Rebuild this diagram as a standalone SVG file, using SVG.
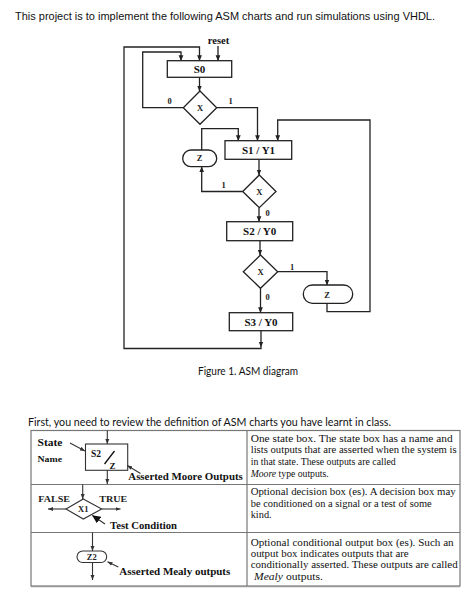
<svg xmlns="http://www.w3.org/2000/svg" width="474" height="598" viewBox="0 0 474 598">
<defs>
<marker id="ah" markerWidth="6" markerHeight="6" refX="5.5" refY="3" orient="auto" markerUnits="userSpaceOnUse">
<path d="M0,0.6 L5.8,3 L0,5.4 Z" fill="#222"/>
</marker>
<marker id="ahs" markerWidth="6" markerHeight="5" refX="5" refY="2.5" orient="auto" markerUnits="userSpaceOnUse">
<path d="M0,0.5 L5,2.5 L0,4.5 Z" fill="#333"/>
</marker>
<marker id="ahb" markerWidth="9" markerHeight="8" refX="8" refY="4" orient="auto" markerUnits="userSpaceOnUse">
<path d="M0,0 L8.5,4 L0,8 Z" fill="#111"/>
</marker>
</defs>
<style>
.ln{fill:none;stroke:#222;stroke-width:1.3}
.bx{fill:#fff;stroke:#222;stroke-width:1.3}
.sn{font-family:"Liberation Serif",serif;font-weight:bold;font-size:11px;fill:#111;text-anchor:middle}
.sm{font-family:"Liberation Serif",serif;font-weight:bold;font-size:8.5px;fill:#222;text-anchor:middle}
.tb{fill:none;stroke:#777;stroke-width:1.2}
.tl{fill:none;stroke:#333;stroke-width:1.1}
.tx{font-family:"Liberation Serif",serif;font-size:10.2px;fill:#111}
.bt{font-family:"Liberation Serif",serif;font-weight:bold;font-size:10.5px;fill:#111}
.hd{font-family:"Liberation Sans",Arial,sans-serif;font-size:11px;fill:#111}
.cal{font-family:Lato,"Open Sans",sans-serif;font-size:11px;fill:#111}
</style>
<rect width="474" height="598" fill="#fff"/>
<text class="hd" x="15" y="20" textLength="420" lengthAdjust="spacingAndGlyphs">This project is to implement the following ASM charts and run simulations using VHDL.</text>

<g id="connectors">
<path class="ln" d="M218,46 V60.7" marker-end="url(#ah)"/>
<path class="ln" d="M261,330.7 V347" marker-end="url(#ah)"/>
<path class="ln" d="M261,347 V348.5 H124 V47 H199.5 V60.7" marker-end="url(#ah)"/>
<path class="ln" d="M183.3,107.7 H142.7 V52 H181 V60.7" marker-end="url(#ah)"/>
<path class="ln" d="M199.5,77.3 V91" marker-end="url(#ah)"/>
<path class="ln" d="M216.7,107.7 H257.5 V140.7" marker-end="url(#ah)"/>
<path class="ln" d="M201.7,150 V128.7 H238.3 V140.7" marker-end="url(#ah)"/>
<path class="ln" d="M327,303.3 V311.7 H370 V120 H277.7 V140.7" marker-end="url(#ah)"/>
<path class="ln" d="M259,159.3 V175" marker-end="url(#ah)"/>
<path class="ln" d="M242.7,191.5 H201.7 V166.7" marker-end="url(#ah)"/>
<path class="ln" d="M259,207.7 V221.7" marker-end="url(#ah)"/>
<path class="ln" d="M260,240.7 V255" marker-end="url(#ah)"/>
<path class="ln" d="M277.5,271.7 H327 V285" marker-end="url(#ah)"/>
<path class="ln" d="M260.5,288.3 V312.7" marker-end="url(#ah)"/>
<text class="sm" x="169.5" y="103.5">0</text>
<text class="sm" x="230.5" y="103.5">1</text>
<text class="sm" x="223.5" y="187.5">1</text>
<text class="sm" x="267.5" y="215.5">0</text>
<text class="sm" x="292" y="269.5">1</text>
<text class="sm" x="267.5" y="299.5">0</text>
<text class="sn" x="218.5" y="43.5" style="font-size:10.5px">reset</text>
</g>

<g id="S0">
<rect class="bx" x="167.3" y="60.7" width="64.4" height="16.6"/>
<text class="sn" x="199.5" y="73">S0</text>
</g>
<g id="D1">
<polygon class="bx" points="200,91 216.7,107.7 200,124.3 183.3,107.7"/>
<text class="sm" x="200" y="111">X</text>
</g>
<g id="S1">
<rect class="bx" x="225" y="140.7" width="66.7" height="18.6"/>
<text class="sn" x="258.5" y="154.3">S1 / Y1</text>
</g>
<g id="Z1">
<rect class="bx" x="182.7" y="150" width="34" height="16.7" rx="8.3"/>
<text class="sm" x="199.7" y="161.3">Z</text>
</g>
<g id="D2">
<polygon class="bx" points="259.3,175 276,191.5 259.3,207.7 242.7,191.5"/>
<text class="sm" x="259.3" y="194.8">X</text>
</g>
<g id="S2">
<rect class="bx" x="226.7" y="221.7" width="66" height="19"/>
<text class="sn" x="259.7" y="235.2">S2 / Y0</text>
</g>
<g id="D3">
<polygon class="bx" points="260.5,255 277.7,271.7 260.5,288.3 243.3,271.7"/>
<text class="sm" x="260.5" y="275">X</text>
</g>
<g id="Z2n">
<rect class="bx" x="303.3" y="285" width="49.4" height="18.3" rx="9"/>
<text class="sm" x="327" y="297.5">Z</text>
</g>
<g id="S3">
<rect class="bx" x="229.3" y="312.7" width="63.4" height="18"/>
<text class="sn" x="261" y="326">S3 / Y0</text>
</g>

<text class="cal" x="198" y="374.5" textLength="100" lengthAdjust="spacingAndGlyphs" style="font-size:10.5px">Figure 1. ASM diagram</text>
<text class="cal" x="28" y="426" textLength="363" lengthAdjust="spacingAndGlyphs" style="font-size:11.5px">First, you need to review the definition of ASM charts you have learnt in class.</text>

<g id="table">
<rect class="tb" x="31" y="430.5" width="429" height="155.5"/>
<line class="tb" x1="31" y1="484.5" x2="460" y2="484.5"/>
<line class="tb" x1="31" y1="532.5" x2="460" y2="532.5"/>
<line class="tb" x1="247" y1="430.5" x2="247" y2="586"/>
<line class="tb" x1="31" y1="586.6" x2="460" y2="586.6" style="stroke:#999"/>

<g id="legend-state">
<text class="bt" x="37.5" y="446" textLength="25" lengthAdjust="spacingAndGlyphs">State</text>
<text class="bt" x="37.5" y="462" textLength="24.5" lengthAdjust="spacingAndGlyphs" style="font-size:9px">Name</text>
<path class="tl" d="M107.3,430.5 V444" marker-end="url(#ahs)"/>
<path class="tl" d="M70,443 L85,451" marker-end="url(#ahs)"/>
<rect x="85.5" y="444" width="42.2" height="26.3" fill="#fff" stroke="#333" stroke-width="1.1"/>
<text class="bt" x="91" y="456.5" style="font-size:9.5px">S2</text>
<line x1="104.5" y1="464" x2="114.5" y2="451" stroke="#111" stroke-width="1.3"/>
<text class="bt" x="109.5" y="468.5" style="font-size:9px">Z</text>
<path class="tl" d="M107.3,470.3 V484" marker-end="url(#ahs)"/>
<path class="tl" d="M140.5,473.5 L127.2,465.5" marker-end="url(#ahs)"/>
<text class="bt" x="128.3" y="479.5" textLength="114.5" lengthAdjust="spacingAndGlyphs">Asserted Moore Outputs</text>
</g>
<text class="tx" x="250.7" y="441.7" textLength="202" lengthAdjust="spacingAndGlyphs">One state box. The state box has a name and</text>
<text class="tx" x="250.7" y="453.3" textLength="206" lengthAdjust="spacingAndGlyphs">lists outputs that are asserted when the system is</text>
<text class="tx" x="250.7" y="465" textLength="145" lengthAdjust="spacingAndGlyphs">in that state. These outputs are called</text>
<text class="tx" x="250.7" y="476.5" textLength="78" lengthAdjust="spacingAndGlyphs"><tspan font-style="italic">Moore</tspan> type outputs.</text>

<g id="legend-decision">
<text class="sm" x="54.2" y="502" textLength="31.7" lengthAdjust="spacingAndGlyphs">FALSE</text>
<text class="sm" x="113.3" y="502" textLength="28" lengthAdjust="spacingAndGlyphs">TRUE</text>
<path class="tl" d="M82.7,484.5 V499" marker-end="url(#ahs)"/>
<polygon points="83.3,499 101.7,509 83.3,519 66,509" fill="#fff" stroke="#333" stroke-width="1.1"/>
<text class="sm" x="83.3" y="512.2">X1</text>
<path class="tl" d="M66,509 H48" marker-end="url(#ahs)"/>
<path class="tl" d="M101.7,509 H120.5" marker-end="url(#ahs)"/>
<path class="tl" d="M105,524 L92.5,515.5" marker-end="url(#ahb)"/>
<text class="bt" x="110" y="529" textLength="67" lengthAdjust="spacingAndGlyphs">Test Condition</text>
</g>
<text class="tx" x="250.7" y="495" textLength="205" lengthAdjust="spacingAndGlyphs">Optional decision box (es). A decision box may</text>
<text class="tx" x="250.7" y="506.7" textLength="181" lengthAdjust="spacingAndGlyphs">be conditioned on a signal or a test of some</text>
<text class="tx" x="250.7" y="518.3" textLength="21" lengthAdjust="spacingAndGlyphs">kind.</text>

<g id="legend-mealy">
<path class="tl" d="M92.5,532.5 V551" marker-end="url(#ahs)"/>
<rect x="77" y="551" width="29.7" height="11.5" rx="5.7" fill="#fff" stroke="#333" stroke-width="1.1"/>
<text class="sm" x="91.8" y="560">Z2</text>
<path class="tl" d="M92.5,562.5 V580" marker-end="url(#ahs)"/>
<path class="tl" d="M118.3,567 L107.5,561.8" marker-end="url(#ahs)"/>
<text class="bt" x="119.3" y="574.5" textLength="111" lengthAdjust="spacingAndGlyphs">Asserted Mealy outputs</text>
</g>
<text class="tx" x="250.7" y="545.7" textLength="203" lengthAdjust="spacingAndGlyphs">Optional conditional output box (es).  Such an</text>
<text class="tx" x="250.7" y="556.9" textLength="158" lengthAdjust="spacingAndGlyphs">output box indicates outputs that are</text>
<text class="tx" x="250.7" y="568.3" textLength="207" lengthAdjust="spacingAndGlyphs">conditionally asserted.  These outputs are called</text>
<text class="tx" x="254" y="580" textLength="69" lengthAdjust="spacingAndGlyphs"><tspan font-style="italic">Mealy</tspan> outputs.</text>
</g>
</svg>
